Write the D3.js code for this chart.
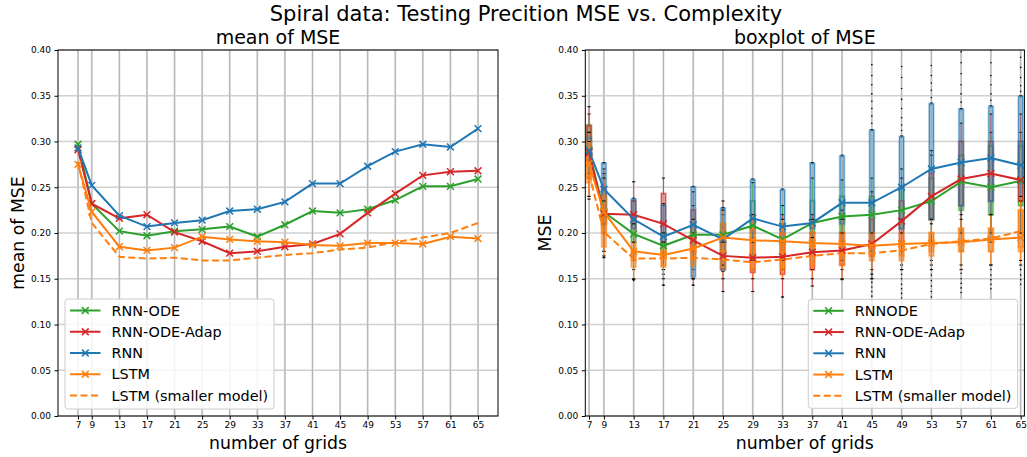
<!DOCTYPE html>
<html><head><meta charset="utf-8">
<script src="https://cdn.jsdelivr.net/npm/d3@7"></script>
<style>
body{margin:0;background:#fff;}
svg{display:block;font-family:"DejaVu Sans",sans-serif;}
</style></head>
<body><svg id="c" width="1027" height="457"></svg>
<script>
// ---------- data ----------
const grids = [7,9,13,17,21,25,29,33,37,41,45,49,53,57,61,65];
const yTicks = [0,0.05,0.10,0.15,0.20,0.25,0.30,0.35,0.40];

// left panel: mean of MSE
const meanRnnOde   = [0.297,0.232,0.202,0.197,0.202,0.204,0.207,0.196,0.209,0.224,0.222,0.226,0.236,0.251,0.251,0.259];
const meanAdap     = [0.291,0.232,0.216,0.220,0.201,0.191,0.178,0.180,0.185,0.188,0.199,0.222,0.243,0.263,0.267,0.268];
const meanRnn      = [0.293,0.252,0.219,0.207,0.211,0.214,0.224,0.226,0.234,0.254,0.254,0.273,0.289,0.297,0.294,0.314];
const meanLstm     = [0.275,0.223,0.185,0.181,0.184,0.196,0.193,0.191,0.190,0.187,0.186,0.189,0.189,0.188,0.196,0.194];
const meanLstmSm   = [0.278,0.211,0.174,0.172,0.173,0.170,0.170,0.173,0.176,0.178,0.182,0.184,0.190,0.195,0.200,0.211];

// right panel: medians (line) and box statistics
const medRnnOde = [0.290,0.223,0.199,0.186,0.198,0.198,0.208,0.193,0.211,0.218,0.220,0.225,0.235,0.256,0.250,0.257];
const medAdap   = [0.288,0.221,0.220,0.210,0.192,0.175,0.173,0.174,0.179,0.181,0.188,0.213,0.240,0.259,0.265,0.258];
const medRnn    = [0.290,0.248,0.215,0.196,0.209,0.193,0.216,0.207,0.211,0.233,0.233,0.250,0.270,0.277,0.282,0.274];
const medLstm   = [0.276,0.223,0.180,0.176,0.183,0.195,0.192,0.191,0.189,0.188,0.186,0.188,0.189,0.190,0.193,0.195];
const medLstmSm = [0.265,0.201,0.172,0.172,0.173,0.171,0.168,0.171,0.175,0.178,0.178,0.181,0.188,0.191,0.194,0.202];

const q1RnnOde = [0.285,0.210,0.190,0.175,0.185,0.180,0.195,0.180,0.200,0.200,0.200,0.205,0.215,0.225,0.220,0.230];
const q3RnnOde = [0.318,0.240,0.210,0.200,0.210,0.210,0.235,0.210,0.235,0.240,0.240,0.250,0.260,0.285,0.295,0.295];
const loRnnOde = [0.260,0.180,0.160,0.155,0.160,0.160,0.170,0.160,0.180,0.170,0.170,0.180,0.190,0.200,0.200,0.200];
const hiRnnOde = [0.330,0.265,0.235,0.230,0.230,0.220,0.255,0.230,0.260,0.258,0.260,0.270,0.285,0.300,0.310,0.310];

const q1Adap = [0.280,0.210,0.205,0.190,0.180,0.160,0.157,0.155,0.160,0.165,0.175,0.190,0.215,0.230,0.235,0.235];
const q3Adap = [0.317,0.250,0.235,0.243,0.225,0.190,0.190,0.200,0.200,0.200,0.215,0.235,0.265,0.300,0.300,0.300];
const loAdap = [0.240,0.180,0.170,0.160,0.143,0.136,0.136,0.130,0.142,0.149,0.150,0.165,0.190,0.200,0.200,0.200];
const hiAdap = [0.338,0.270,0.256,0.260,0.245,0.235,0.215,0.220,0.220,0.225,0.245,0.260,0.290,0.320,0.330,0.330];

const q1Rnn = [0.285,0.225,0.205,0.185,0.152,0.160,0.200,0.190,0.205,0.210,0.180,0.205,0.215,0.230,0.235,0.255];
const q3Rnn = [0.304,0.276,0.237,0.230,0.250,0.227,0.258,0.247,0.276,0.284,0.312,0.305,0.341,0.335,0.338,0.349];
const loRnn = [0.265,0.200,0.180,0.160,0.150,0.158,0.170,0.170,0.190,0.190,0.150,0.160,0.170,0.180,0.190,0.200];
const hiRnn = [0.310,0.277,0.238,0.232,0.251,0.228,0.259,0.248,0.277,0.285,0.313,0.306,0.342,0.336,0.339,0.350];

const q1Lstm = [0.260,0.200,0.170,0.165,0.170,0.180,0.175,0.180,0.175,0.175,0.175,0.175,0.180,0.180,0.180,0.180];
const q3Lstm = [0.300,0.240,0.190,0.185,0.200,0.210,0.205,0.200,0.200,0.200,0.200,0.200,0.200,0.205,0.205,0.225];
const loLstm = [0.237,0.175,0.149,0.143,0.150,0.165,0.160,0.160,0.160,0.160,0.160,0.160,0.165,0.160,0.165,0.165];
const hiLstm = [0.310,0.260,0.210,0.200,0.215,0.225,0.220,0.215,0.215,0.215,0.220,0.215,0.215,0.220,0.220,0.235];

const q1LstmSm = [0.255,0.185,0.163,0.163,0.165,0.162,0.160,0.160,0.165,0.165,0.170,0.170,0.175,0.180,0.180,0.185];
const q3LstmSm = [0.285,0.220,0.180,0.180,0.185,0.180,0.180,0.180,0.185,0.190,0.190,0.190,0.200,0.205,0.205,0.225];
const loLstmSm = [0.240,0.173,0.150,0.150,0.150,0.150,0.150,0.150,0.150,0.150,0.155,0.160,0.160,0.165,0.165,0.170];
const hiLstmSm = [0.300,0.235,0.190,0.190,0.200,0.190,0.190,0.190,0.195,0.200,0.200,0.200,0.210,0.215,0.220,0.240];

// outliers [grid, mse]
const fliers = [
 [9,0.174],[13,0.148],[17,0.143],[21,0.143],[25,0.136],[33,0.130],
 [45,0.384],[45,0.372],[45,0.362],[45,0.352],[45,0.344],[45,0.336],[45,0.328],[45,0.320],[45,0.146],[45,0.141],[45,0.136],[45,0.131],[45,0.126],[45,0.121],
 [49,0.382],[49,0.370],[49,0.358],[49,0.346],[49,0.336],[49,0.326],[49,0.318],[49,0.312],[49,0.155],[49,0.150],[49,0.144],[49,0.139],[49,0.134],[49,0.129],[49,0.124],
 [53,0.383],[53,0.372],[53,0.364],[53,0.356],[53,0.348],[53,0.160],[53,0.154],[53,0.148],[53,0.142],[53,0.136],[53,0.130],
 [57,0.398],[57,0.386],[57,0.374],[57,0.362],[57,0.352],[57,0.343],[57,0.156],[57,0.150],[57,0.145],[57,0.140],[57,0.135],
 [61,0.400],[61,0.386],[61,0.372],[61,0.362],[61,0.352],[61,0.345],[61,0.160],[61,0.154],[61,0.149],[61,0.144],[61,0.139],
 [65,0.392],[65,0.381],[65,0.370],[65,0.361],[65,0.355],[65,0.160],[65,0.154],[65,0.149],[65,0.144]
];

const labelsLeft  = ["RNN-ODE","RNN-ODE-Adap","RNN","LSTM","LSTM (smaller model)"];
const labelsRight = ["RNNODE","RNN-ODE-Adap","RNN","LSTM","LSTM (smaller model)"];
const colors = ["#2ca02c","#d62728","#1f77b4","#ff7f0e","#ff7f0e"];
const dashed = [false,false,false,false,true];

const meanSeries = [meanRnnOde,meanAdap,meanRnn,meanLstm,meanLstmSm];
const medSeries  = [medRnnOde,medAdap,medRnn,medLstm,medLstmSm];
const boxStats = [
  {q1:q1RnnOde,q3:q3RnnOde,lo:loRnnOde,hi:hiRnnOde},
  {q1:q1Adap,q3:q3Adap,lo:loAdap,hi:hiAdap},
  {q1:q1Rnn,q3:q3Rnn,lo:loRnn,hi:hiRnn},
  {q1:q1Lstm,q3:q3Lstm,lo:loLstm,hi:hiLstm},
  {q1:q1LstmSm,q3:q3LstmSm,lo:loLstmSm,hi:hiLstmSm}
];

// ---------- drawing ----------
const svg = d3.select("#c");
const yTop = 50, yBot = 416;
const y = d3.scaleLinear().domain([0,0.4]).range([yBot,yTop]);
const xL = d3.scaleLinear().domain([4.1,67.9]).range([58,498]);
const xR = d3.scaleLinear().domain([6.5,65.5]).range([585.3,1024.4]);

svg.append("text").attr("x",526).attr("y",21).attr("text-anchor","middle")
  .attr("font-size",21).text("Spiral data: Testing Precition MSE vs. Complexity");

function markerX(g, cx, cy, color){
  const s = 3.4;
  g.append("path").attr("d",`M${cx-s},${cy-s}L${cx+s},${cy+s}M${cx-s},${cy+s}L${cx+s},${cy-s}`)
   .attr("stroke",color).attr("stroke-width",1.5).attr("fill","none");
}

function axesFrame(x, title, ylabel, ylabelX, id){
  const x0 = x.range()[0], x1 = x.range()[1];
  const g = svg.append("g");
  g.selectAll(".hg").data(yTicks).join("line")
    .attr("x1",x0).attr("x2",x1).attr("y1",d=>y(d)).attr("y2",d=>y(d))
    .attr("stroke","#d0d0d0").attr("stroke-width",1.6);
  g.selectAll(".vg").data(grids).join("line")
    .attr("x1",d=>x(d)).attr("x2",d=>x(d)).attr("y1",yTop).attr("y2",yBot)
    .attr("stroke","#dadada").attr("stroke-width",2);
  g.selectAll(".vg2").data(grids).join("line")
    .attr("x1",d=>x(d)).attr("x2",d=>x(d)).attr("y1",yTop).attr("y2",yBot)
    .attr("stroke","#a8a8a8").attr("stroke-width",0.8);
  svg.append("clipPath").attr("id",id).append("rect")
    .attr("x",x0).attr("y",yTop).attr("width",x1-x0).attr("height",yBot-yTop);
  svg.append("text").attr("x",(x0+x1)/2).attr("y",44).attr("text-anchor","middle")
    .attr("font-size",19).text(title);
  svg.append("text").attr("x",(x0+x1)/2).attr("y",449).attr("text-anchor","middle")
    .attr("font-size",17.3).text("number of grids");
  svg.append("text").attr("transform",`translate(${ylabelX},${(yTop+yBot)/2}) rotate(-90)`)
    .attr("text-anchor","middle").attr("dominant-baseline","central")
    .attr("font-size",17.3).text(ylabel);
  return g;
}

function axesOverlay(x){
  const x0 = x.range()[0], x1 = x.range()[1];
  const ax = d3.axisBottom(x).tickValues(grids).tickSize(3.5).tickPadding(2.5).tickFormat(d3.format("d"));
  const gx = svg.append("g").attr("transform",`translate(0,${yBot})`).call(ax);
  gx.select(".domain").remove();
  gx.selectAll("text").attr("font-size",9).attr("fill","#000").attr("font-family","DejaVu Sans");
  gx.selectAll("line").attr("stroke","#000");
  const ay = d3.axisLeft(y).tickValues(yTicks).tickSize(3.5).tickPadding(3.5).tickFormat(d3.format(".2f"));
  const gy = svg.append("g").attr("transform",`translate(${x0},0)`).call(ay);
  gy.select(".domain").remove();
  gy.selectAll("text").attr("font-size",9).attr("fill","#000").attr("font-family","DejaVu Sans");
  gy.selectAll("line").attr("stroke","#000");
  svg.append("rect").attr("x",x0).attr("y",yTop).attr("width",x1-x0).attr("height",yBot-yTop)
    .attr("fill","none").attr("stroke","#000").attr("stroke-width",1);
}

function legend(lx, ly, w, h, labels){
  const g = svg.append("g");
  g.append("rect").attr("x",lx).attr("y",ly).attr("width",w).attr("height",h).attr("rx",3)
    .attr("fill","#fff").attr("fill-opacity",0.85).attr("stroke","#cccccc").attr("stroke-width",1);
  labels.forEach((lab,i)=>{
    const cy = ly + 11.5 + i*21.25;
    g.append("line").attr("x1",lx+5).attr("x2",lx+35.5).attr("y1",cy).attr("y2",cy)
      .attr("stroke",colors[i]).attr("stroke-width",2)
      .attr("stroke-dasharray",dashed[i]?"7,3.5":null);
    if(!dashed[i]) markerX(g, lx+20.3, cy, colors[i]);
    g.append("text").attr("x",lx+46.5).attr("y",cy).attr("dominant-baseline","central")
      .attr("font-size",14.4).text(lab);
  });
}

// ----- left panel -----
axesFrame(xL,"mean of MSE","mean of MSE",18,"clipL");
const gl = svg.append("g").attr("clip-path","url(#clipL)");
const lineL = d3.line().x((d,i)=>xL(grids[i])).y(d=>y(d));
meanSeries.forEach((s,k)=>{
  gl.append("path").attr("d",lineL(s)).attr("fill","none").attr("stroke",colors[k])
    .attr("stroke-width",2).attr("stroke-dasharray",dashed[k]?"7,3.5":null);
  if(!dashed[k]) s.forEach((v,i)=>markerX(gl,xL(grids[i]),y(v),colors[k]));
});
axesOverlay(xL);
legend(65,299,209,110,labelsLeft);

// ----- right panel -----
axesFrame(xR,"boxplot of MSE","MSE",545,"clipR");
const gr = svg.append("g").attr("clip-path","url(#clipR)");
const bw = 4;
boxStats.forEach((b,k)=>{
  const c = colors[k];
  grids.forEach((g,i)=>{
    const cx = xR(g);
    gr.append("line").attr("x1",cx).attr("x2",cx).attr("y1",y(b.lo[i])).attr("y2",y(b.q1[i]))
      .attr("stroke",c).attr("stroke-width",1).attr("stroke-opacity",0.7);
    gr.append("line").attr("x1",cx).attr("x2",cx).attr("y1",y(b.q3[i])).attr("y2",y(b.hi[i]))
      .attr("stroke",c).attr("stroke-width",1).attr("stroke-opacity",0.7);
    [b.lo[i],b.hi[i]].forEach(v=>gr.append("line").attr("x1",cx-1.6).attr("x2",cx+1.6)
      .attr("y1",y(v)).attr("y2",y(v)).attr("stroke","#000").attr("stroke-width",1));
    gr.append("rect").attr("x",cx-bw/2).attr("y",y(b.q3[i])).attr("width",bw)
      .attr("height",y(b.q1[i])-y(b.q3[i]))
      .attr("fill",c).attr("fill-opacity",0.15).attr("stroke",c).attr("stroke-opacity",0.35).attr("stroke-width",2.6);
    gr.append("rect").attr("x",cx-bw/2).attr("y",y(b.q3[i])).attr("width",bw)
      .attr("height",y(b.q1[i])-y(b.q3[i]))
      .attr("fill","none").attr("stroke",c).attr("stroke-width",0.8).attr("stroke-opacity",0.9);
  });
});
gr.selectAll(".fl").data(fliers).join("circle")
  .attr("cx",d=>xR(d[0])).attr("cy",d=>y(d[1])).attr("r",0.8).attr("fill","#000");
const lineR = d3.line().x((d,i)=>xR(grids[i])).y(d=>y(d));
medSeries.forEach((s,k)=>{
  gr.append("path").attr("d",lineR(s)).attr("fill","none").attr("stroke",colors[k])
    .attr("stroke-width",2).attr("stroke-dasharray",dashed[k]?"7,3.5":null);
  if(!dashed[k]) s.forEach((v,i)=>markerX(gr,xR(grids[i]),y(v),colors[k]));
});
axesOverlay(xR);
legend(808.3,299.3,209.4,109,labelsRight);
</script></body></html>
